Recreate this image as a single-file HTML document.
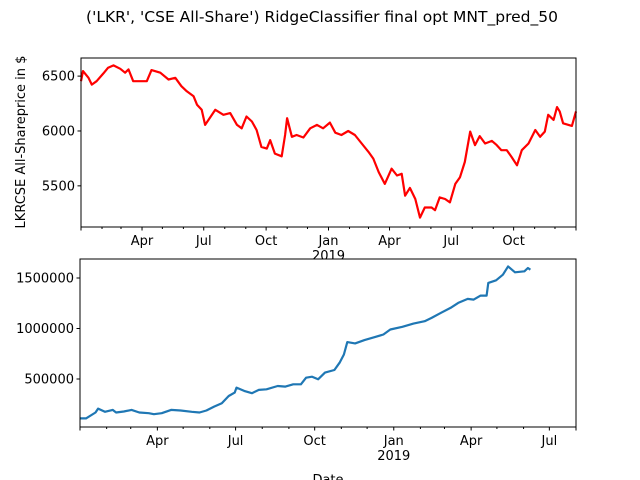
<!DOCTYPE html>
<html><head><meta charset="utf-8"><style>
html,body{margin:0;padding:0;background:#fff;}
svg{display:block;font-family:"DejaVu Sans","Liberation Sans",sans-serif;}
</style></head><body>
<svg id="chart" width="640" height="480" viewBox="0 0 640 480">
<rect width="640" height="480" fill="#fff"/>
<text x="322" y="22" text-anchor="middle" font-size="15.5">('LKR', 'CSE All-Share') RidgeClassifier final opt MNT_pred_50</text>
<g id="top"></g>
<g id="bot"></g>
</svg>
<script>
// Top chart data: days since 2018-01-01, price
const topDays=[0,3,11,16,23,33,40,48,58,65,70,77,87,97,104,117,129,139,148,156,166,171,178,183,188,198,210,220,230,237,244,252,259,266,274,279,286,296,301,304,311,318,328,338,348,357,367,375,384,394,404,414,424,431,439,448,458,466,473,478,485,493,500,507,517,522,529,537,544,552,559,566,574,581,588,596,606,613,620,628,635,643,650,660,670,677,684,689,697,702,706,711,724,730];
const topVals=[6454,6546,6485,6423,6454,6525,6577,6598,6567,6531,6561,6454,6454,6454,6555,6531,6469,6485,6408,6362,6316,6239,6193,6055,6101,6193,6147,6163,6055,6024,6132,6086,6009,5855,5839,5916,5794,5769,5963,6116,5947,5963,5941,6024,6055,6024,6076,5984,5963,6000,5963,5886,5809,5748,5625,5518,5656,5594,5610,5410,5481,5380,5211,5303,5303,5278,5395,5380,5349,5518,5579,5717,5994,5871,5953,5886,5910,5871,5825,5825,5763,5687,5825,5886,6009,5947,5994,6147,6101,6218,6178,6070,6046,6178];
const topYTicks=[5500,6000,6500];
// Bottom chart data
const botDays=[0,7,18,21,29,38,42,51,60,69,80,86,95,106,117,130,139,147,156,165,173,180,182,191,200,208,217,230,239,248,257,263,270,277,285,296,302,307,311,320,331,344,353,361,375,388,401,409,420,431,440,451,458,466,473,475,484,492,498,506,517,521,524];
const botVals=[110000,110000,168000,207000,175000,194000,168000,178000,194000,168000,161000,151000,161000,194000,188000,175000,168000,188000,227000,260000,332000,365000,415000,382000,359000,392000,398000,431000,425000,448000,448000,513000,523000,497000,563000,589000,661000,743000,865000,852000,885000,918000,941000,990000,1017000,1049000,1072000,1105000,1155000,1204000,1253000,1293000,1286000,1326000,1326000,1451000,1477000,1533000,1615000,1556000,1566000,1599000,1582000];
const botYTicks=[500000,1000000,1500000];
const majorDays=[90,181,273,365,455,546,638];
const majorLabels=['Apr','Jul','Oct','Jan','Apr','Jul','Oct'];
const minorDays=[31,59,120,151,212,243,304,334,396,424,485,516,577,608,669,699];
const NS='http://www.w3.org/2000/svg';
function mk(p,t,a){const e=document.createElementNS(NS,t);for(const k in a)e.setAttribute(k,a[k]);p.appendChild(e);return e;}
function axes(g,L,R,T,B,d0,d1,v0,v1,days,vals,ticks,color,maxDay,pre){
  const x=d=>L+(d-d0)/(d1-d0)*(R-L);
  const y=v=>B-(v-v0)/(v1-v0)*(B-T);
  const bg=mk(g,'rect',{x:L,y:T,width:R-L,height:B-T,fill:'#fff'});
  
  
  let d='';days.forEach((dd,i)=>{d+=(i?'L':'M')+x(dd).toFixed(1)+','+y(vals[i]).toFixed(1);});
  const line=mk(g,'path',{d:d,fill:'none',stroke:color,'stroke-width':2.2,'stroke-linejoin':'round'});
  
  
  const fr=mk(g,'rect',{x:L,y:T,width:R-L,height:B-T,fill:'none',stroke:'#000','stroke-width':1});
  
  
  ticks.forEach(v=>{const yy=y(v);
    mk(g,'line',{x1:L-3.5,x2:L,y1:yy,y2:yy,stroke:'#000'});
    const t=mk(g,'text',{x:L-6,y:yy+4.5,'text-anchor':'end','font-size':13});t.textContent=v;
    
    });
  minorDays.forEach(dd=>{if(dd<=maxDay)mk(g,'line',{x1:x(dd),x2:x(dd),y1:B,y2:B+2,stroke:'#000'});});
  mk(g,'line',{x1:L,x2:L,y1:B,y2:B+3.5,stroke:'#000'});
  mk(g,'line',{x1:R,x2:R,y1:B,y2:B+3.5,stroke:'#000'});
  majorDays.forEach((dd,i)=>{if(dd>maxDay)return;const xx=x(dd);
    mk(g,'line',{x1:xx,x2:xx,y1:B,y2:B+3.5,stroke:'#000'});
    const t=mk(g,'text',{x:xx,y:B+18,'text-anchor':'middle','font-size':13});t.textContent=majorLabels[i];
    
    
    if(majorLabels[i]==='Jan'){const t2=mk(g,'text',{x:xx,y:B+33,'text-anchor':'middle','font-size':13});t2.textContent='2019';
      
      }
  });
}
const tg=document.getElementById('top'),bg=document.getElementById('bot');
axes(tg,81,576,58,227,0,730,5125,6665,topDays,topVals,topYTicks,'#ff0000',700,'top');
const yl=mk(tg,'text',{x:0,y:0,'text-anchor':'middle','font-size':13,transform:'translate(25,142) rotate(-90)'});yl.textContent='LKRCSE All-Shareprice in $';


axes(bg,80,576,259,427,0,577,1500000-19/0.101*1000,1500000+(427-278)/0.101*1000*0+ (278-259)/0.101*1000,botDays,botVals,botYTicks,'#1f77b4',577,'bottom');
</script>
<script>
// fix bottom y-range properly: redraw with explicit min/max
(function(){const g=document.getElementById('bot');while(g.firstChild)g.removeChild(g.firstChild);
const vMax=1500000+(278-259)/0.101*1000, vMin=1500000-(427-278)/0.101*1000;
axes(g,80,576,259,427,0,577,vMin,vMax,botDays,botVals,botYTicks,'#1f77b4',577,'bottom');
const xl=mk(g,'text',{x:328,y:484,'text-anchor':'middle','font-size':13});xl.textContent='Date';

})();
</script>
</body></html>
